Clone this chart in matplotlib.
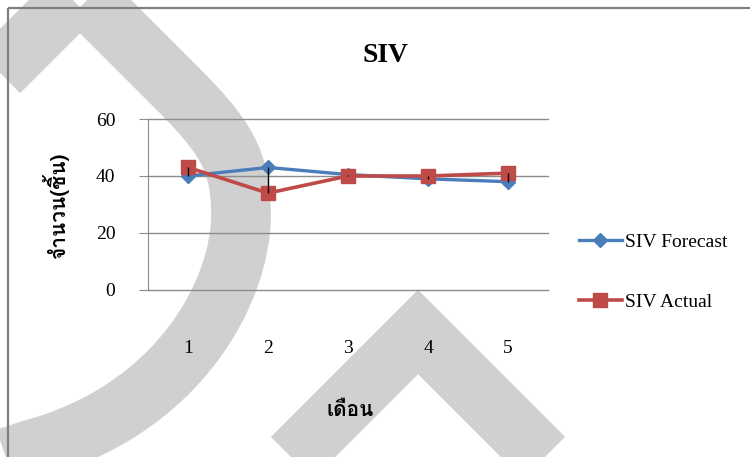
import matplotlib
matplotlib.use("Agg")
import matplotlib.pyplot as plt
from matplotlib.path import Path
from matplotlib.patches import PathPatch, Rectangle
from matplotlib import font_manager
from matplotlib.ft2font import FT2Font

months = [1, 2, 3, 4, 5]
siv_forecast = [40, 43, 40.5, 39, 38]
siv_actual = [43, 34, 40, 40, 41]
y_ticks = [0, 20, 40, 60]

title = "SIV"
x_label = "เดือน"
y_label = "จำนวน(ชิ้น)"

# find a font that has Thai glyphs
def find_thai_font():
    found = []
    for f in font_manager.fontManager.ttflist:
        try:
            if FT2Font(f.fname).get_char_index(ord("จ")):
                found.append(f.name)
        except Exception:
            pass
    for pref in ["Norasi", "TH Sarabun New", "Garuda", "Loma", "Tlwg", "Noto Serif Thai", "Noto Sans Thai", "DejaVu"]:
        for n in found:
            if pref in n:
                return n
    return found[0] if found else "DejaVu Sans"

thai = find_thai_font()
serif = "Liberation Serif"

W, H = 750, 457
fig = plt.figure(figsize=(7.5, 4.57), dpi=100)

# background watermark, drawn in pixel coordinates
bg = fig.add_axes([0, 0, 1, 1], zorder=-1)
bg.set_xlim(0, W)
bg.set_ylim(H, 0)
bg.axis("off")
grey = "#d0d0d0"
band = 43  # points, about 60 px

verts = [(-100, 171), (80, -9), (175, 86),
         (225, 136), (241, 160), (241, 215),
         (241, 290), (180, 410), (30, 450),
         (-60, 480)]
codes = [Path.MOVETO, Path.LINETO, Path.LINETO,
         Path.CURVE4, Path.CURVE4, Path.CURVE4,
         Path.CURVE4, Path.CURVE4, Path.CURVE4,
         Path.LINETO]
bg.add_patch(PathPatch(Path(verts, codes), facecolor="none", edgecolor=grey,
                       lw=band, joinstyle="miter", capstyle="butt"))
bg.plot([250, 418, 586], [500, 332, 500], color=grey, lw=band,
        solid_joinstyle="miter", solid_capstyle="butt")

# chart border
bg.add_patch(Rectangle((8, 8), 760, 470, facecolor="none", edgecolor="#7f7f7f", lw=1.6))

ax = fig.add_axes([148 / W, 1 - 290 / H, 400 / W, 171 / H])
ax.patch.set_alpha(0)

ax.vlines(months, siv_forecast, siv_actual, color="black", lw=1, zorder=5)
ax.plot(months, siv_forecast, color="#4a7ebb", lw=2.4, marker="D", markersize=7.5,
        label="SIV Forecast", zorder=3)
ax.plot(months, siv_actual, color="#be4b48", lw=2.6, marker="s", markersize=10,
        label="SIV Actual", zorder=4)

ax.set_xlim(0.5, 5.5)
ax.set_ylim(0, 60)
ax.set_yticks(y_ticks)
ax.set_xticks(months)
ax.grid(axis="y", color="#8c8c8c", lw=1)
ax.set_axisbelow(True)
for gl in ax.yaxis.get_gridlines():
    gl.set_clip_on(False)
for s in ["top", "right", "bottom"]:
    ax.spines[s].set_visible(False)
ax.spines["left"].set_color("#8c8c8c")
ax.tick_params(axis="y", length=6.5, color="#8c8c8c", pad=17, labelsize=14)
ax.tick_params(axis="x", length=0, pad=36, labelsize=14)
for lab in ax.get_xticklabels() + ax.get_yticklabels():
    lab.set_fontfamily(serif)

fig.text(385 / W, 1 - 55 / H, title, ha="center", va="center",
         fontsize=20, fontweight="bold", family=serif)
fig.text(350 / W, 1 - 410 / H, x_label, ha="center", va="center",
         fontsize=15, fontweight="bold", family=[thai, "DejaVu Sans"])
fig.text(55 / W, 1 - 205 / H, y_label, ha="center", va="center", rotation=90,
         fontsize=15, fontweight="bold", family=[thai, "DejaVu Sans"])

fig.legend(loc="center left", bbox_to_anchor=(579 / W, 1 - 272 / H), frameon=False,
           prop={"family": serif, "size": 14}, labelspacing=2.2, handlelength=2.2,
           handletextpad=0.15, numpoints=1, borderaxespad=0, borderpad=0)

fig.savefig("out.png", dpi=100)
